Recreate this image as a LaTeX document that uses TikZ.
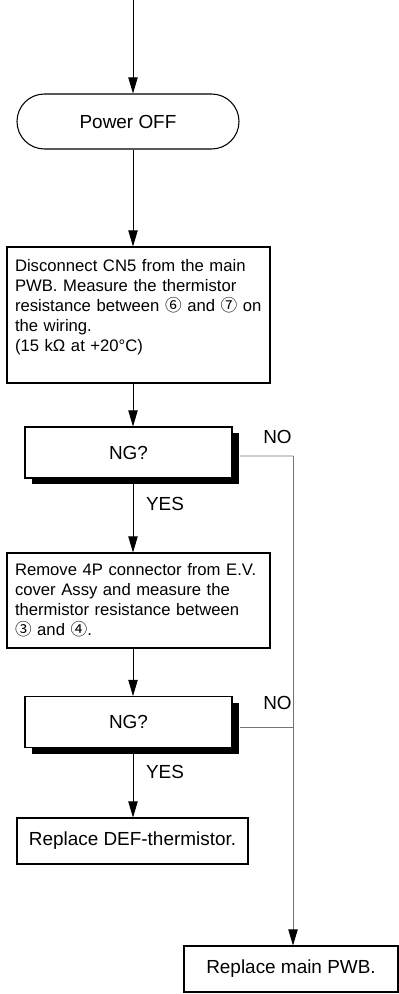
\documentclass[tikz,border=0pt]{standalone}
\usepackage{fontspec}
\setmainfont{Liberation Sans}
\newfontfamily\circfont{Noto Sans CJK JP}
\usetikzlibrary{arrows.meta,shadows}

\newcommand{\cdig}[1]{{\circfont #1}}

\tikzset{
  flow/.style={-{Triangle[length=12pt,width=7pt]}, line width=0.6pt},
  noline/.style={line width=0.6pt, draw=black!55},
  box/.style={draw, line width=0.8pt, fill=white, font=\fontsize{14.2}{17}\selectfont},
  textbox/.style={box, font=\fontsize{12.5}{15}\selectfont, text width=185.25pt, align=left, inner xsep=6pt},
  ngbox/.style={box, minimum width=155.25pt, minimum height=38.25pt,
    drop shadow={shadow xshift=5.5pt, shadow yshift=-4.5pt, fill=black, opacity=1}},
  lbl/.style={font=\fontsize{14.2}{17}\selectfont, inner sep=0pt}
}

\begin{document}
\begin{tikzpicture}[x=0.75pt, y=-0.75pt]
\useasboundingbox (0,0) rectangle (399,994);

% start
\coordinate (top) at (133,0);

% Power OFF
\node[box, rounded corners=20.6pt, minimum width=166.5pt, minimum height=41.25pt] (power) at (128,121.5) {Power OFF};

% first measurement
\node[textbox, minimum height=102pt] (meas1) at (138.5,315) {Disconnect CN5 from the main\\
PWB. Measure the thermistor\\
resistance between \cdig{⑥} and \cdig{⑦} on\\
the wiring.\\
(15 kΩ at +20°C)\\
~};

% first check
\node[ngbox] (ng1) at (128.5,452.5) {NG?};
\node[lbl] (no1) at (277.5,437) {NO};
\node[lbl] (yes1) at (165,504) {YES};

% second measurement
\node[textbox, minimum height=71.25pt] (meas2) at (138.5,600.5) {Remove 4P connector from E.V.\\
cover Assy and measure the\\
thermistor resistance between\\
\cdig{③} and \cdig{④}.};

% second check
\node[ngbox] (ng2) at (128.5,722) {NG?};
\node[lbl] (no2) at (277.5,703) {NO};
\node[lbl] (yes2) at (165,772) {YES};

% results
\node[box, minimum width=173.25pt, minimum height=34.5pt] (defrep) at (132.5,841) {Replace DEF-thermistor.};
\node[box, minimum width=160.5pt, minimum height=34.5pt] (pwb) at (291,969) {Replace main PWB.};

% main flow
\draw[flow] (top) -- (top |- power.north);
\draw[flow] (top |- power.south) -- (top |- meas1.north);
\draw[flow] (top |- meas1.south) -- (top |- ng1.north);
\draw[flow] (top |- ng1.south) -- (top |- meas2.north);
\draw[flow] (top |- meas2.south) -- (top |- ng2.north);
\draw[flow] (top |- ng2.south) -- (top |- defrep.north);

% NO branch
\coordinate (rline) at (293,456);
\draw[noline] ([xshift=5.5pt,yshift=-2.6pt]ng1.east) -- (rline);
\draw[noline] ([xshift=5.5pt,yshift=-3.75pt]ng2.east) coordinate (j2) -- (rline |- j2);
\draw[noline, -{Triangle[length=12pt,width=7pt,black]}] (rline) -- (rline |- pwb.north);

\end{tikzpicture}
\end{document}
